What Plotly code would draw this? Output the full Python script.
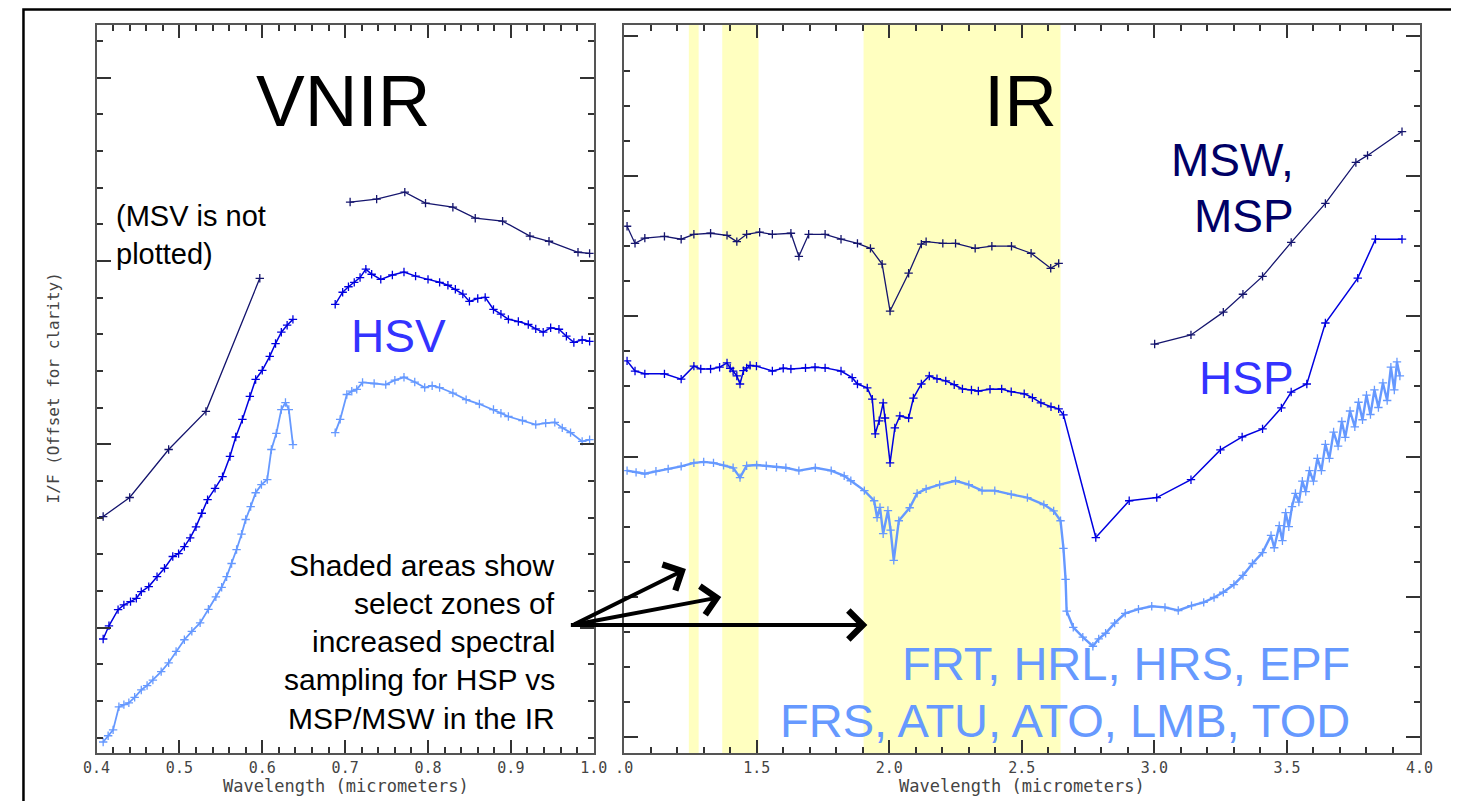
import plotly.graph_objects as go

# ---------------- data ----------------
# VNIR panel (wavelength in micrometers, I/F offset in arbitrary tick units)
vnir_msp_wl = [0.408, 0.440, 0.487, 0.532, 0.597, None,
               0.706, 0.738, 0.772, 0.797, 0.830, 0.857, 0.890, 0.923, 0.946, 0.981, 0.995]
vnir_msp_if = [6.03, 6.55, 7.86, 8.90, 12.53, None,
               14.61, 14.69, 14.88, 14.58, 14.47, 14.17, 14.09, 13.68, 13.54, 13.24, 13.21]

vnir_hsv_wl = [0.408, 0.415, 0.426, 0.433, 0.441, 0.448, 0.454, 0.463, 0.473, 0.482, 0.492, 0.499,
               0.506, 0.513, 0.520, 0.527, 0.534, 0.543, 0.552, 0.561, 0.568, 0.576, 0.585, 0.592,
               0.600, 0.609, 0.616, 0.623, 0.630, 0.637, None,
               0.688, 0.697, 0.704, 0.711, 0.718, 0.725, 0.732, 0.743, 0.757, 0.771, 0.785, 0.800,
               0.814, 0.824, 0.833, 0.842, 0.850, 0.860, 0.869, 0.879, 0.888, 0.897, 0.909, 0.921,
               0.930, 0.939, 0.948, 0.958, 0.967, 0.976, 0.986, 0.995]
vnir_hsv_if = [2.69, 3.05, 3.49, 3.62, 3.71, 3.80, 3.98, 4.12, 4.39, 4.62, 4.94, 5.02,
               5.21, 5.45, 5.75, 6.12, 6.49, 6.80, 7.12, 7.67, 8.20, 8.68, 9.31, 9.77,
               10.02, 10.40, 10.75, 11.06, 11.25, 11.41, None,
               11.82, 12.15, 12.30, 12.42, 12.55, 12.78, 12.64, 12.50, 12.62, 12.70, 12.59, 12.50,
               12.42, 12.34, 12.23, 12.10, 11.90, 11.98, 12.01, 11.68, 11.55, 11.41, 11.35, 11.27,
               11.15, 11.06, 11.18, 11.14, 10.95, 10.78, 10.85, 10.81]

vnir_frt_wl = [0.408, 0.414, 0.420, 0.427, 0.433, 0.439, 0.446, 0.454, 0.461, 0.468, 0.478, 0.487,
               0.496, 0.506, 0.515, 0.525, 0.535, 0.544, 0.551, 0.557, 0.563, 0.569, 0.575, 0.580,
               0.586, 0.592, 0.599, 0.606, 0.611, 0.617, 0.623, 0.628, 0.632, 0.637, None,
               0.688, 0.694, 0.702, 0.708, 0.714, 0.721, 0.735, 0.749, 0.760, 0.771, 0.784, 0.796,
               0.805, 0.814, 0.830, 0.846, 0.862, 0.879, 0.888, 0.897, 0.914, 0.930, 0.942, 0.953,
               0.962, 0.972, 0.986, 0.995]
vnir_frt_if = [-0.12, 0.05, 0.21, 0.84, 0.90, 0.95, 1.10, 1.30, 1.42, 1.57, 1.80, 2.04,
               2.35, 2.67, 2.90, 3.13, 3.50, 3.84, 4.10, 4.39, 4.75, 5.13, 5.55, 5.95,
               6.30, 6.68, 6.90, 7.04, 7.86, 8.30, 8.95, 9.14, 8.95, 7.99, None,
               8.32, 8.68, 9.36, 9.45, 9.50, 9.69, 9.66, 9.63, 9.75, 9.83, 9.70, 9.55,
               9.60, 9.55, 9.40, 9.22, 9.10, 8.95, 8.85, 8.76, 8.65, 8.54, 8.58, 8.60,
               8.45, 8.32, 8.08, 8.13]

# IR panel
ir_msp_wl = [1.011, 1.041, 1.078, 1.152, 1.215, 1.263, 1.326, 1.388, 1.425, 1.462, 1.511, 1.559,
             1.629, 1.659, 1.696, 1.758, 1.818, 1.880, 1.929, 1.973, 2.003, 2.073, 2.121, 2.139,
             2.202, 2.250, 2.324, 2.387, 2.461, 2.535, 2.609, 2.639, None,
             3.001, 3.138, 3.260, 3.334, 3.408, 3.516, 3.645, 3.760, 3.804, 3.934]
ir_msp_if = [14.57, 14.08, 14.23, 14.28, 14.20, 14.34, 14.37, 14.31, 14.13, 14.34, 14.40, 14.34,
             14.37, 13.71, 14.34, 14.34, 14.20, 14.08, 13.94, 13.49, 12.15, 13.23, 14.06, 14.13,
             14.08, 14.08, 13.94, 14.00, 14.00, 13.80, 13.37, 13.51, None,
             11.21, 11.47, 12.12, 12.63, 13.14, 14.11, 15.22, 16.39, 16.59, 17.27]

ir_hsp_wl = [1.011, 1.041, 1.078, 1.152, 1.215, 1.263, 1.289, 1.326, 1.360, 1.388, 1.400, 1.411,
             1.425, 1.437, 1.450, 1.462, 1.475, 1.499, 1.559, 1.600, 1.629, 1.684, 1.720, 1.758,
             1.818, 1.860, 1.880, 1.917, 1.936, 1.947, 1.962, 1.977, 1.984, 2.003, 2.021, 2.040,
             2.073, 2.091, 2.121, 2.151, 2.180, 2.213, 2.245, 2.276, 2.310, 2.336, 2.380, 2.424,
             2.460, 2.509, 2.540, 2.572, 2.610, 2.639, 2.657, 2.779, 2.905, 3.009, 3.138, 3.249,
             3.331, 3.408, 3.479, 3.516, 3.575, 3.645, 3.767, 3.834, 3.934]
ir_hsp_if = [10.73, 10.44, 10.36, 10.36, 10.21, 10.58, 10.50, 10.50, 10.55, 10.67, 10.52, 10.44,
             10.30, 10.07, 10.45, 10.53, 10.60, 10.58, 10.44, 10.52, 10.50, 10.53, 10.55, 10.53,
             10.44, 10.25, 10.07, 9.96, 9.64, 8.65, 9.02, 9.53, 9.10, 7.82, 8.82, 9.16,
             9.10, 9.67, 10.07, 10.30, 10.22, 10.16, 10.05, 9.93, 9.90, 9.87, 9.92, 9.93,
             9.85, 9.79, 9.68, 9.53, 9.42, 9.36, 9.19, 5.69, 6.74, 6.83, 7.34, 8.19,
             8.56, 8.79, 9.39, 9.84, 10.07, 11.81, 13.09, 14.20, 14.20]

ir_frt_wl = [1.011, 1.045, 1.078, 1.120, 1.166, 1.215, 1.263, 1.300, 1.337, 1.375, 1.411, 1.437,
             1.462, 1.500, 1.536, 1.575, 1.610, 1.659, 1.721, 1.781, 1.830, 1.855, 1.906, 1.943,
             1.954, 1.965, 1.977, 1.995, 2.005, 2.017, 2.036, 2.077, 2.105, 2.139, 2.190, 2.250,
             2.300, 2.350, 2.398, 2.460, 2.521, 2.583, 2.620, 2.646, 2.657, 2.665, 2.669, 2.694,
             2.730, 2.768, 2.790, 2.816, 2.850, 2.890, 2.940, 2.990, 3.040, 3.090, 3.140, 3.186,
             3.225, 3.260, 3.300, 3.334, 3.370, 3.408, 3.440, 3.452, 3.471, 3.483, 3.495, 3.507,
             3.519, 3.532, 3.545, 3.558, 3.571, 3.585, 3.600, 3.615, 3.630, 3.645, 3.660, 3.676,
             3.693, 3.707, 3.720, 3.738, 3.756, 3.770, 3.785, 3.800, 3.815, 3.830, 3.845, 3.862,
             3.878, 3.892, 3.905, 3.915, 3.926]
ir_frt_if = [7.60, 7.55, 7.51, 7.58, 7.65, 7.72, 7.82, 7.85, 7.82, 7.75, 7.68, 7.40,
             7.74, 7.76, 7.74, 7.70, 7.68, 7.60, 7.68, 7.60, 7.45, 7.31, 7.03, 6.74,
             6.26, 6.55, 5.80, 6.46, 5.90, 5.04, 6.17, 6.54, 6.95, 7.08, 7.20, 7.31,
             7.20, 7.03, 7.03, 6.92, 6.83, 6.63, 6.45, 6.17, 5.38, 4.50, 3.59, 3.13,
             2.85, 2.59, 2.80, 2.96, 3.25, 3.53, 3.65, 3.73, 3.70, 3.61, 3.75, 3.84,
             3.98, 4.13, 4.35, 4.61, 4.95, 5.26, 5.75, 5.40, 6.03, 5.60, 6.40, 6.00,
             6.57, 6.95, 6.70, 7.30, 7.00, 7.60, 7.30, 7.95, 7.60, 8.35, 7.95, 8.70,
             8.30, 9.00, 8.55, 9.30, 8.85, 9.55, 9.05, 9.75, 9.20, 9.90, 9.40, 10.10,
             9.60, 10.55, 9.90, 10.70, 10.30]

# shaded IR zones of increased HSP sampling (micrometers)
zone_start = [1.244, 1.370, 1.903]
zone_end = [1.281, 1.507, 2.646]

vnir_ticks = [0.4, 0.5, 0.6, 0.7, 0.8, 0.9, 1.0]
vnir_ticktext = ["0.4", "0.5", "0.6", "0.7", "0.8", "0.9", "1.0"]
ir_ticks = [1.0, 1.5, 2.0, 2.5, 3.0, 3.5, 4.0]
ir_ticktext = [".0", "1.5", "2.0", "2.5", "3.0", "3.5", "4.0"]

# ---------------- styling ----------------
# The page body has an 8px margin: the figure starts 8px in and runs to the window edge.
OFF = 8
W, H = 1459 - OFF, 801 - OFF
C_DARK = "#15156e"
C_MED = "#0000e0"
C_LIGHT = "#6699ff"
SANS = "Liberation Sans, Arial, sans-serif"
MONO = "DejaVu Sans Mono, monospace"


def px_x(p):  # screen pixel -> paper fraction
    return (p - OFF) / W


def px_y(p):
    return 1 - (p - OFF) / H


fig = go.Figure()


def add_curve(x, y, color, xa, ya, msize=6, width=1.3):
    fig.add_trace(go.Scatter(
        x=x, y=y, xaxis=xa, yaxis=ya, mode="lines+markers",
        line=dict(color=color, width=width),
        marker=dict(symbol="cross-thin", size=msize, line=dict(color=color, width=1.3)),
        connectgaps=False, showlegend=False, hoverinfo="x+y"))


add_curve(vnir_msp_wl, vnir_msp_if, C_DARK, "x", "y")
add_curve(vnir_hsv_wl, vnir_hsv_if, C_MED, "x", "y", width=1.5)
add_curve(vnir_frt_wl, vnir_frt_if, C_LIGHT, "x", "y", width=1.8)
add_curve(ir_msp_wl, ir_msp_if, C_DARK, "x2", "y2")
add_curve(ir_hsp_wl, ir_hsp_if, C_MED, "x2", "y2", width=1.5)
add_curve(ir_frt_wl, ir_frt_if, C_LIGHT, "x2", "y2", width=2.4)

shapes = [dict(type="rect", xref="paper", yref="paper",
               x0=px_x(9.5), x1=1.05, y0=px_y(9.5), y1=-0.05,
               fillcolor="white", line=dict(color="black", width=2.5), layer="below")]
for a, b in zip(zone_start, zone_end):
    shapes.append(dict(type="rect", xref="x2", yref="y2 domain", x0=a, x1=b, y0=0, y1=1,
                       fillcolor="#ffffc0", line=dict(width=0), layer="below"))

axis_common = dict(showgrid=False, zeroline=False, showline=True, linecolor="#555",
                   linewidth=2, mirror="ticks", ticks="inside", tickcolor="#333",
                   tickwidth=1.5)
tickfont = dict(family=MONO, size=15, color="#444")

ydom = [px_y(753), px_y(25)]

fig.update_layout(
    width=W, height=H, autosize=False,
    margin=dict(l=0, r=0, t=0, b=0, pad=0),
    paper_bgcolor="white", plot_bgcolor="rgba(0,0,0,0)",
    shapes=shapes,
    xaxis=dict(domain=[px_x(84), px_x(591)], range=[0.4, 1.0], anchor="y",
               tickvals=vnir_ticks, ticktext=vnir_ticktext, ticklen=13, tickfont=tickfont,
               minor=dict(dtick=0.02, tick0=0.4, ticklen=6, ticks="inside", tickcolor="#333"),
               **axis_common),
    yaxis=dict(domain=ydom, range=[-0.42, 19.44], anchor="x", showticklabels=False,
               tick0=3, dtick=5, ticklen=14,
               minor=dict(dtick=1, tick0=0, ticklen=6, ticks="inside", tickcolor="#333"),
               **axis_common),
    xaxis2=dict(domain=[px_x(622), px_x(1433)], range=[1.0, 4.0], anchor="y2",
                tickvals=ir_ticks, ticktext=ir_ticktext, ticklen=13, tickfont=tickfont,
                minor=dict(dtick=0.1, tick0=1.0, ticklen=6, ticks="inside", tickcolor="#333"),
                **axis_common),
    yaxis2=dict(domain=ydom, range=[-0.455, 20.31], anchor="x2", showticklabels=False,
                tick0=0, dtick=4, ticklen=14,
                minor=dict(dtick=1, tick0=0, ticklen=6, ticks="inside", tickcolor="#333"),
                **axis_common),
)

ann = []


def text(t, x, y, size, color, xanchor="center", align="center", family=SANS, angle=0):
    ann.append(dict(text=t, x=px_x(x), y=px_y(y), xref="paper", yref="paper",
                    xanchor=xanchor, yanchor="middle", align=align, showarrow=False,
                    textangle=angle, borderpad=0,
                    font=dict(family=family, size=size, color=color)))


# axis titles
text("Wavelength (micrometers)", 338, 786, 17, "#444", family=MONO)
text("Wavelength (micrometers)", 1028, 786, 17, "#444", family=MONO)
text("I/F (Offset for clarity)", 40, 388, 16, "#444", family=MONO, angle=-90)

text("VNIR", 335, 101, 73, "black")
text("IR", 1026, 101, 73, "black")
text("(MSV is not", 103, 216, 29, "black", xanchor="left", align="left")
text("plotted)", 103, 254, 29, "black", xanchor="left", align="left")
text("HSV", 392, 336, 46, "#3333ff")
text("MSW,", 1306, 160, 46, "#000066", xanchor="right", align="right")
text("MSP", 1306, 216, 46, "#000066", xanchor="right", align="right")
text("HSP", 1306, 378, 46, "#3333ff", xanchor="right", align="right")
text("FRT, HRL, HRS, EPF", 1363, 663, 47, C_LIGHT, xanchor="right", align="right")
text("FRS, ATU, ATO, LMB, TOD", 1363, 720, 47, C_LIGHT, xanchor="right", align="right")
shaded_lines = ["Shaded areas show", "select zones of", "increased spectral",
                "sampling for HSP vs", "MSP/MSW in the IR"]
for i, s in enumerate(shaded_lines):
    text(s, 553, 565 + 38.3 * i, 30, "black", xanchor="right", align="right")

# arrows from the note to the shaded zones
tail = (572, 625)
for hx, hy in [(685, 569), (721, 597), (870, 625)]:
    ann.append(dict(text="", x=px_x(hx), y=px_y(hy), xref="paper", yref="paper",
                    ax=tail[0] - hx, ay=tail[1] - hy, showarrow=True,
                    arrowhead=4, arrowsize=1.4, arrowwidth=4, arrowcolor="black"))

fig.update_layout(annotations=ann)
fig.write_html("out.html")
